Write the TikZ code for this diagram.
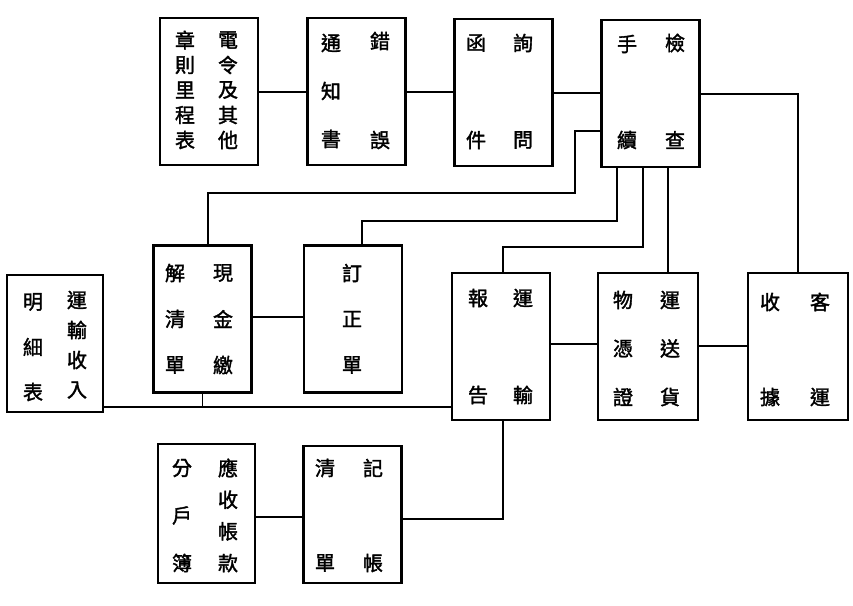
\documentclass[tikz,border=0pt]{standalone}
\usepackage{fontspec}
\newfontfamily\cjk{Noto Sans CJK TC}[FakeBold=1.8]
\usetikzlibrary{calc}
\tikzset{
  box/.style={draw, line width=2.4pt, inner sep=0pt, minimum width=98pt, minimum height=147pt},
  ch/.style={inner sep=0pt, font=\cjk\fontsize{20}{20}\selectfont},
  link/.style={line width=1.8pt},
}
\newcommand\colchars[5]{%
  \foreach \c [count=\i] in {#5} {\node[ch] (#1\i) at (#2,{#3+(\i-1)*#4}) {\c};}}
\begin{document}
\begin{tikzpicture}[x=1pt,y=-1pt]
\useasboundingbox (0,0) rectangle (853,605);
% boxes
\node[box] (b1) at (209,91.5) {};
\node[box] (b2) at (356.5,91.5) {};
\node[box] (b3) at (503.5,92.5) {};
\node[box] (b4) at (650.5,93.5) {};
\node[box] (b5) at (202.5,319) {};
\node[box] (b6) at (353,319) {};
\node[box, minimum width=96pt, minimum height=137pt] (b7) at (55,343.5) {};
\node[box] (b8) at (501,346.5) {};
\node[box, minimum width=100pt] (b9) at (648,346.5) {};
\node[box, minimum width=100pt] (b10) at (798,346.5) {};
\node[box, minimum width=97pt, minimum height=139pt] (b11) at (206.5,513.5) {};
\node[box, minimum height=137pt] (b12) at (352.5,514.5) {};
% texts
\colchars{t1r}{228}{40}{25}{電,令,及,其,他}
\colchars{t1l}{185}{40}{25}{章,則,里,程,表}
\colchars{t2r}{380}{41}{99}{錯,誤}
\colchars{t2l}{331}{43}{48}{通,知,書}
\colchars{t3r}{523}{43}{97}{詢,問}
\colchars{t3l}{476}{43}{97}{函,件}
\colchars{t4r}{675}{43}{97}{檢,查}
\colchars{t4l}{627}{44}{96}{手,續}
\colchars{t5r}{223}{273}{46}{現,金,繳}
\colchars{t5l}{175}{273}{46}{解,清,單}
\colchars{t6}{352}{273}{46}{訂,正,單}
\colchars{t7r}{77}{300}{30}{運,輸,收,入}
\colchars{t7l}{33}{302}{45}{明,細,表}
\colchars{t8r}{523}{298}{97}{運,輸}
\colchars{t8l}{478}{298}{97}{報,告}
\colchars{t9r}{670}{300}{48.5}{運,送,貨}
\colchars{t9l}{623}{300}{48.5}{物,憑,證}
\colchars{t10r}{820}{302}{95}{客,運}
\colchars{t10l}{770}{302}{95}{收,據}
\colchars{t11r}{228}{468}{31.7}{應,收,帳,款}
\colchars{t11l}{182}{468}{47.5}{分,戶,簿}
\colchars{t12r}{373}{468}{95}{記,帳}
\colchars{t12l}{325}{468}{95}{清,單}
% connectors
\draw[link] (b1.east |- 0,92) -- (b2.west |- 0,92);
\draw[link] (b2.east |- 0,92) -- (b3.west |- 0,92);
\draw[link] (b3.east |- 0,93) -- (b4.west |- 0,93);
\draw[link] (b4.east |- 0,94) -| (b10.north);
\draw[link] (b4.west |- 0,131) -- (575,131) -- (575,193) -- (208,193) -- (b5.north -| 208,0);
\draw[link] (b4.south -| 617,0) -- (617,221) -- (362,221) -- (b6.north -| 362,0);
\draw[link] (b4.south -| 643,0) -- (643,247) -- (503,247) -- (b8.north -| 503,0);
\draw[link] (b4.south -| 668,0) -- (b9.north -| 668,0);
\draw[link] (b5.east |- 0,317) -- (b6.west |- 0,317);
\draw[link] (b7.east |- 0,407) -- (b8.west |- 0,407);
\draw[link] (b5.south) -- (b5.south |- 0,407);
\draw[link] (b8.south -| 503,0) -- (503,519) -- (b12.east |- 0,519);
\draw[link] (b8.east |- 0,344) -- (b9.west |- 0,344);
\draw[link] (b9.east |- 0,346) -- (b10.west |- 0,346);
\draw[link] (b11.east |- 0,517) -- (b12.west |- 0,517);
\end{tikzpicture}
\end{document}
